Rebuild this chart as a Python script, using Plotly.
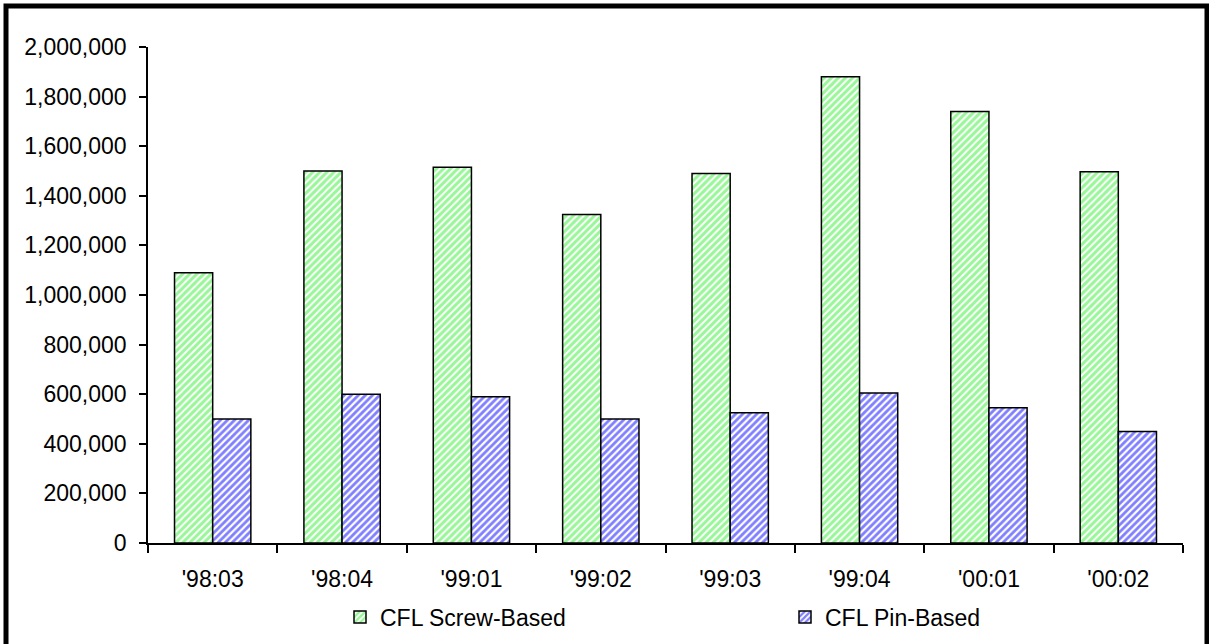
import plotly.graph_objects as go

categories = ["'98:03", "'98:04", "'99:01", "'99:02", "'99:03", "'99:04", "'00:01", "'00:02"]
screw_based = [1090000, 1500000, 1515000, 1325000, 1490000, 1880000, 1740000, 1497000]
pin_based = [500000, 600000, 590000, 500000, 525000, 605000, 545000, 450000]
y_ticks = list(range(0, 2000001, 200000))

W, H = 1209, 644
L, R, T, B = 148, 26, 47, 101
pw, ph = W - L - R, H - T - B

def px_x(x):
    return (x - L) / pw

def px_y(y):
    return (H - B - y) / ph

fig = go.Figure()
fig.add_trace(go.Bar(
    x=categories, y=screw_based, name="CFL Screw-Based", legend="legend",
    marker=dict(color="white", line=dict(color="black", width=1.5),
                pattern=dict(shape="/", fgcolor="#33EE33", bgcolor="white", size=5, solidity=0.6)),
))
fig.add_trace(go.Bar(
    x=categories, y=pin_based, name="CFL Pin-Based", legend="legend2",
    marker=dict(color="white", line=dict(color="black", width=1.5),
                pattern=dict(shape="/", fgcolor="#0000FF", bgcolor="white", size=5, solidity=0.55)),
))

font = dict(family="Liberation Sans", size=23, color="black")

leg_common = dict(orientation="h", xanchor="left", y=px_y(617), yanchor="middle",
                  font=font, bgcolor="rgba(0,0,0,0)")

fig.update_layout(
    width=W, height=H,
    margin=dict(l=L, r=R, t=T, b=B, autoexpand=False),
    paper_bgcolor="white", plot_bgcolor="white",
    barmode="group", bargap=0.41, bargroupgap=0,
    font=font,
    showlegend=True,
    legend=dict(x=px_x(340), **leg_common),
    legend2=dict(x=px_x(785), **leg_common),
    xaxis=dict(type="category", showline=True, linecolor="black", linewidth=1.5,
               ticks="outside", tickson="boundaries", ticklen=8, tickcolor="black", tickwidth=1.5,
               showgrid=False, tickfont=font, ticklabelstandoff=15),
    yaxis=dict(range=[0, 2000000], tickvals=y_ticks, tickformat=",d", showline=True,
               linecolor="black", linewidth=1.5, ticks="outside", ticklen=7, tickcolor="black",
               tickwidth=1.5, showgrid=False, zeroline=False, tickfont=font, ticklabelstandoff=8),
    shapes=[dict(type="rect", xref="paper", yref="paper",
                 x0=px_x(6), x1=px_x(1207), y0=px_y(680), y1=px_y(6),
                 line=dict(color="black", width=5), fillcolor="rgba(0,0,0,0)", layer="above")],
)

fig.write_html("out.html", config={"displayModeBar": False},
               post_script="document.body.style.margin='0px';")
